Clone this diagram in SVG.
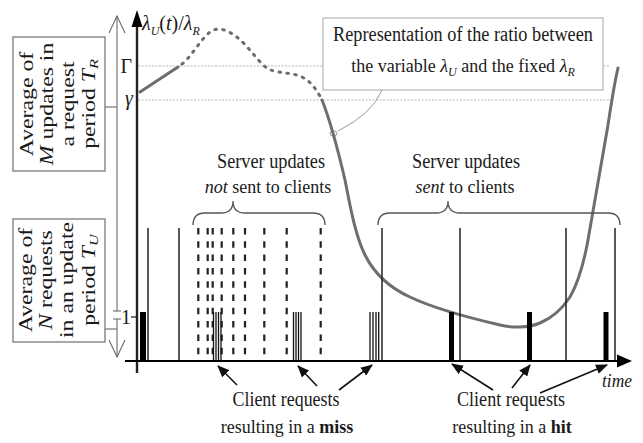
<svg xmlns="http://www.w3.org/2000/svg" width="643" height="443" viewBox="0 0 643 443">
  <style>
    text { font-family: "Liberation Serif", "Times New Roman", serif; fill: #1a1a1a; }
    .lbl { font-size: 20px; }
    .sm { font-size: 18px; }
    .mid { text-anchor: middle; }
    .it { font-style: italic; }
    .bd { font-weight: bold; }
    .box { fill: #fff; stroke: #7a7a7a; stroke-width: 1.3; }
    .callout { fill: #fff; stroke: #c4c4c4; stroke-width: 1.5; }
    .ref { stroke: #b4b4b4; stroke-width: 1; stroke-dasharray: 2 1.5; fill: none; }
    .upd { stroke: #222; stroke-width: 1.5; }
    .skip { stroke: #222; stroke-width: 2.2; stroke-dasharray: 6.5 6.8; }
    .req { stroke: #111; stroke-width: 1.3; }
    .brace { fill: none; stroke: #555; stroke-width: 1.3; }
    .curve { fill: none; stroke: #6e6e6e; stroke-width: 3; stroke-linecap: round; }
    .guide { fill: none; stroke: #6a6a6a; stroke-width: 1.1; }
    .ptr { fill: none; stroke: #111; stroke-width: 1.6; marker-end: url(#ah); }
  </style>
  <defs>
    <marker id="ah" markerUnits="userSpaceOnUse" markerWidth="12" markerHeight="10" refX="11" refY="5" orient="auto">
      <path d="M0,0 L12,5 L0,10 Z" fill="#111"/>
    </marker>
  </defs>

  <!-- reference levels Gamma and gamma -->
  <g id="levels">
    <line class="ref" x1="138" y1="66" x2="610" y2="66"/>
    <line class="ref" x1="138" y1="100" x2="612" y2="100"/>
  </g>

  <!-- callout -->
  <g id="callout">
    <rect class="callout" x="323" y="18" width="280" height="72"/>
    <text class="lbl mid" x="463" y="41" textLength="260" lengthAdjust="spacingAndGlyphs">Representation of the ratio between</text>
    <text class="sm mid" x="463" y="72">the variable <tspan class="it">λ</tspan><tspan class="it" font-size="12" dy="4">U</tspan><tspan dy="-4"> and the fixed </tspan><tspan class="it">λ</tspan><tspan class="it" font-size="12" dy="4">R</tspan></text>
    <path d="M382,90 Q372,114 338,131" fill="none" stroke="#9a9a9a" stroke-width="1"/>
    <ellipse cx="333.5" cy="133.5" rx="3.5" ry="2.6" fill="none" stroke="#9a9a9a" stroke-width="1"/>
  </g>

  <!-- ratio curve -->
  <g id="ratio-curve">
    <path class="curve" d="M140,92 L178,67"/>
    <path class="curve" stroke-width="3.4" stroke-dasharray="1.6 6.4" d="M182,64 C192,56 200,40 210,32 C218,26 228,30 238,38 C250,48 258,62 268,69 C280,74 292,72 302,77 C312,82 318,92 322,100"/>
    <path class="curve" d="M322,100 C330,120 338,150 345,180 C350,205 355,235 365,255 C375,275 390,288 410,297 C435,309 470,318 500,325 C512,328 528,328 540,323 C552,318 562,309 570,297 C578,283 584,262 588,240 C594,205 602,160 608,125 C611,105 614,85 618,68"/>
  </g>

  <!-- server updates -->
  <g id="updates-sent">
    <line class="upd" x1="148" y1="228" x2="148" y2="361"/>
    <line class="upd" x1="179" y1="228" x2="179" y2="361"/>
    <line class="upd" x1="382" y1="228" x2="382" y2="361"/>
    <line class="upd" x1="460" y1="228" x2="460" y2="361"/>
    <line class="upd" x1="566" y1="228" x2="566" y2="361"/>
    <line class="upd" x1="615" y1="228" x2="615" y2="361"/>
  </g>
  <g id="updates-not-sent">
    <line class="skip" x1="198.3" y1="228" x2="198.3" y2="361"/>
    <line class="skip" x1="207.7" y1="228" x2="207.7" y2="361"/>
    <line class="skip" x1="212.7" y1="228" x2="212.7" y2="361"/>
    <line class="skip" x1="221.7" y1="228" x2="221.7" y2="361"/>
    <line class="skip" x1="233.3" y1="228" x2="233.3" y2="361"/>
    <line class="skip" x1="245" y1="228" x2="245" y2="361"/>
    <line class="skip" x1="264.3" y1="228" x2="264.3" y2="361"/>
    <line class="skip" x1="286.7" y1="228" x2="286.7" y2="361"/>
    <line class="skip" x1="320.7" y1="228" x2="320.7" y2="361"/>
  </g>

  <!-- client requests -->
  <g id="requests-miss">
    <line class="req" x1="213.5" y1="312" x2="213.5" y2="361"/>
    <line class="req" x1="216" y1="312" x2="216" y2="361"/>
    <line class="req" x1="218.5" y1="312" x2="218.5" y2="361"/>
    <line class="req" x1="221" y1="312" x2="221" y2="361"/>
    <line class="req" x1="293.5" y1="312" x2="293.5" y2="361"/>
    <line class="req" x1="296" y1="312" x2="296" y2="361"/>
    <line class="req" x1="298.5" y1="312" x2="298.5" y2="361"/>
    <line class="req" x1="301" y1="312" x2="301" y2="361"/>
    <line class="req" x1="370" y1="312" x2="370" y2="361"/>
    <line class="req" x1="373" y1="312" x2="373" y2="361"/>
    <line class="req" x1="376" y1="312" x2="376" y2="361"/>
    <line class="req" x1="378.7" y1="312" x2="378.7" y2="361"/>
  </g>
  <g id="requests-hit" fill="#000">
    <rect x="140" y="312" width="6" height="49"/>
    <rect x="449" y="312" width="5" height="49"/>
    <rect x="527" y="312" width="5" height="49"/>
    <rect x="603.5" y="312" width="5" height="49"/>
  </g>

  <!-- axes -->
  <g id="axes">
    <line x1="137" y1="24" x2="137" y2="373" stroke="#222" stroke-width="2.4"/>
    <polygon points="137,10 131.5,27 142.5,27" fill="#000"/>
    <line x1="125" y1="361" x2="620" y2="361" stroke="#000" stroke-width="2"/>
    <polygon points="632,361 617,354.5 617,367.5" fill="#000"/>
    <line x1="131" y1="317" x2="137" y2="317" stroke="#222" stroke-width="1.3"/>
    <text x="142" y="30" font-size="20"><tspan class="it">λ</tspan><tspan class="it" font-size="12" dy="5">U</tspan><tspan dy="-5">(</tspan><tspan class="it">t</tspan>)/<tspan class="it">λ</tspan><tspan class="it" font-size="12" dy="5">R</tspan></text>
    <text class="lbl" x="132" y="73" text-anchor="end">Γ</text>
    <text class="lbl it" x="133" y="105" text-anchor="end">γ</text>
    <text class="lbl" x="131" y="324" text-anchor="end">1</text>
    <text class="it" x="602" y="387" font-size="18" textLength="30" lengthAdjust="spacingAndGlyphs">time</text>
  </g>

  <!-- period scale on the left -->
  <g id="period-scale">
    <line class="guide" x1="117" y1="16" x2="117" y2="311"/>
    <line class="guide" x1="117" y1="319" x2="117" y2="357"/>
    <path class="guide" d="M109,33 L117,16 L125,33"/>
    <path class="guide" d="M109,340 L117,357 L125,340"/>
    <line class="guide" x1="113" y1="311" x2="121" y2="311"/>
    <line class="guide" x1="113" y1="319" x2="121" y2="319"/>
  </g>

  <g id="box-updates-per-request">
    <line class="guide" x1="105" y1="107" x2="117" y2="107"/>
    <rect class="box" x="13" y="37" width="92" height="134"/>
    <g transform="translate(0,104) rotate(-90) scale(1.25,1)" font-size="19">
      <text class="mid" x="0" y="33">Average of</text>
      <text class="mid" x="0" y="53"><tspan class="it">M</tspan> updates in</text>
      <text class="mid" x="0" y="74">a request</text>
      <text class="mid" x="0" y="95">period <tspan class="it">T</tspan><tspan class="it" font-size="13" dy="3">R</tspan></text>
    </g>
  </g>

  <g id="box-requests-per-update">
    <line class="guide" x1="105" y1="329" x2="117" y2="329"/>
    <rect class="box" x="13" y="219" width="92" height="123"/>
    <g transform="translate(0,280) rotate(-90) scale(1.25,1)" font-size="19">
      <text class="mid" x="0" y="32">Average of</text>
      <text class="mid" x="0" y="52"><tspan class="it">N</tspan> requests</text>
      <text class="mid" x="0" y="73">in an update</text>
      <text class="mid" x="0" y="95">period <tspan class="it">T</tspan><tspan class="it" font-size="13" dy="3">U</tspan></text>
    </g>
  </g>

  <!-- braces and their captions -->
  <g id="group-not-sent">
    <path class="brace" d="M193,225 Q193,213 205,213 L221,213 Q233,213 233,201 Q233,213 245,213 L313,213 Q325,213 325,225"/>
    <text class="lbl mid" x="271" y="168" textLength="108" lengthAdjust="spacingAndGlyphs">Server updates</text>
    <text class="sm mid" x="268" y="193"><tspan class="it">not</tspan> sent to clients</text>
  </g>
  <g id="group-sent">
    <path class="brace" d="M378,225 Q378,213 390,213 L436,213 Q448,213 448,201 Q448,213 460,213 L608,213 Q620,213 620,225"/>
    <text class="lbl mid" x="466" y="168" textLength="108" lengthAdjust="spacingAndGlyphs">Server updates</text>
    <text class="sm mid" x="465" y="193"><tspan class="it">sent</tspan> to clients</text>
  </g>

  <g id="label-miss">
    <text class="lbl mid" x="286" y="406" textLength="107" lengthAdjust="spacingAndGlyphs">Client requests</text>
    <text class="sm mid" x="287" y="433">resulting in a <tspan class="bd">miss</tspan></text>
  </g>
  <g id="label-hit">
    <text class="lbl mid" x="511" y="406" textLength="108" lengthAdjust="spacingAndGlyphs">Client requests</text>
    <text class="sm mid" x="512" y="433">resulting in a <tspan class="bd">hit</tspan></text>
  </g>

  <!-- connectors -->
  <g id="connectors">
    <line class="ptr" x1="237" y1="385" x2="218" y2="366"/>
    <line class="ptr" x1="317" y1="386" x2="298" y2="366"/>
    <line class="ptr" x1="339" y1="390" x2="372" y2="365"/>
    <line class="ptr" x1="493" y1="390" x2="452" y2="364"/>
    <line class="ptr" x1="512" y1="388" x2="530" y2="365"/>
    <line class="ptr" x1="540" y1="393" x2="607" y2="365"/>
  </g>
</svg>
